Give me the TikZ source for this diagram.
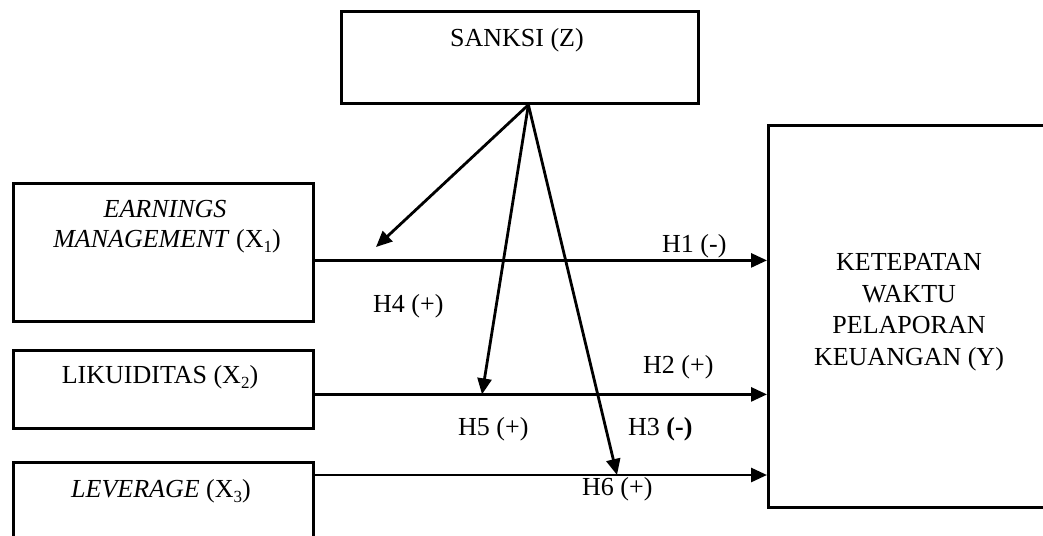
\documentclass[tikz,border=0pt]{standalone}
\usepackage{fontspec}
\setmainfont{Liberation Serif}
\usetikzlibrary{arrows.meta}
\newcommand{\mysub}[1]{\raisebox{-0.22em}{\fontsize{17}{17}\selectfont #1}}
\tikzset{
  boxshape/.style={draw, line width=2.8pt, rectangle, inner sep=0pt, anchor=north west},
  txt/.style={inner sep=0pt, font=\fontsize{26}{31.5}\selectfont},
  arr/.style={line width=2.8pt, -{Triangle[length=16pt,width=14pt]}},
}
\begin{document}
\begin{tikzpicture}[x=1pt,y=-1pt]
\useasboundingbox (0,0) rectangle (1043,535);
\clip (0,0) rectangle (1043,535);
\fill[white] (0,0) rectangle (1043,535);
% boxes
\node[boxshape, minimum width=357pt, minimum height=92pt] (sanksi) at (340,10) {};
\node[boxshape, minimum width=300pt, minimum height=138pt] (earn) at (12,182) {};
\node[boxshape, minimum width=300pt, minimum height=78pt] (likuid) at (12,349) {};
\node[boxshape, minimum width=300pt, minimum height=110pt] (lev) at (12,461) {};
\node[boxshape, minimum width=300pt, minimum height=382pt] (ket) at (767,124) {};
% box texts
\node[txt, anchor=base] (tsanksi) at (517,47) {SANKSI (Z)};
\node[txt, anchor=base] (tearn1) at (165,217) {\textit{EARNINGS}};
\node[txt, anchor=base] (tearn2) at (167,247) {\textit{MANAGEMENT} (X\mysub{1})};
\node[txt, anchor=base] (tlik) at (160,383) {LIKUIDITAS (X\mysub{2})};
\node[txt, anchor=base] (tlev) at (161,497) {\textit{LEVERAGE} (X\mysub{3})};
\node[txt, anchor=base, align=center] (tket) at (909,365) {KETEPATAN\\WAKTU\\PELAPORAN\\KEUANGAN (Y)};
% horizontal connectors
\path ([yshift=-8pt]earn.east) coordinate (e1);
\path ([yshift=-5pt]likuid.east) coordinate (e2);
\path ([yshift=-14pt]lev.north east) coordinate (e3);
\draw[arr] (e1) -- (e1 -| ket.west);
\draw[arr] (e2) -- (e2 -| ket.west);
\draw[arr] (e3) -- (e3 -| ket.west);
% moderating connectors
\path ([xshift=8.5pt]sanksi.south) coordinate (s0);
\coordinate (m1) at (376,247);
\path (e2 -| 482,0) coordinate (m2);
\path (e3 -| 617,0) coordinate (m3);
\draw[arr] (s0) -- (m1);
\draw[arr] (s0) -- (m2);
\draw[arr] (s0) -- (m3);
% labels
\node[txt, anchor=base west] (h1) at (662,252) {H1 (-)};
\node[txt, anchor=base west] (h4) at (373,312) {H4 (+)};
\node[txt, anchor=base west] (h2) at (643,373) {H2 (+)};
\node[txt, anchor=base west] (h5) at (458,435) {H5 (+)};
\node[txt, anchor=base west] (h3) at (628,435) {H3 \textbf{(-)}};
\node[txt, anchor=base west] (h6) at (582,495) {H6 (+)};
\end{tikzpicture}
\end{document}
